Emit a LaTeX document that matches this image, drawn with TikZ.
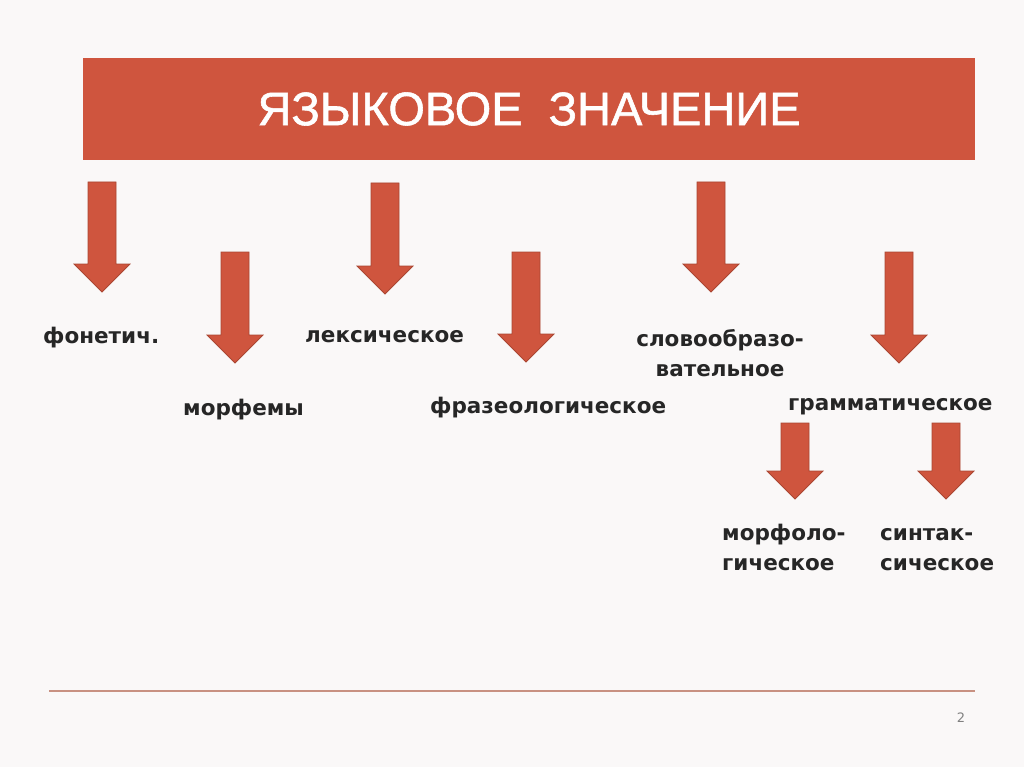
\documentclass[tikz,border=0pt]{standalone}
\usepackage{fontspec}
\setmainfont{DejaVu Sans}
\newfontfamily\titlefont[FakeBold=1.2]{Liberation Sans}
\definecolor{arrowred}{RGB}{207,85,62}
\definecolor{arrowedge}{RGB}{170,70,50}
\definecolor{bgcol}{RGB}{250,248,248}
\definecolor{textdark}{RGB}{38,38,38}
\definecolor{rulecol}{RGB}{200,145,130}
\tikzset{
  pics/darr/.style={code={
    \filldraw[fill=arrowred,draw=arrowedge,line width=0.8pt]
      (-14,0) -- (14,0) -- (14,#1-28) -- (28,#1-28) -- (0,#1)
      -- (-28,#1-28) -- (-14,#1-28) -- cycle;}},
  lbl/.style={font=\bfseries\fontsize{21.5}{29}\selectfont, text=textdark, inner sep=0pt, anchor=base west},
}
\begin{document}
\begin{tikzpicture}[x=1pt,y=-1pt]
\fill[bgcol] (0,0) rectangle (1024,767);
\useasboundingbox (0,0) rectangle (1024,767);
% banner
\node[fill=arrowred, minimum width=892pt, minimum height=102pt, inner sep=0pt,
  text=white, font=\titlefont\fontsize{47}{50}\selectfont] (title) at (529,109)
  {ЯЗЫКОВОЕ\ \ ЗНАЧЕНИЕ};
% arrows
\pic at (102,182) {darr=110};
\pic at (235,252) {darr=111};
\pic at (385,183) {darr=111};
\pic at (526,252) {darr=110};
\pic at (711,182) {darr=110};
\pic at (899,252) {darr=111};
\pic at (795,423) {darr=76};
\pic at (946,423) {darr=76};
% labels
\node[lbl] (phon) at (43,343) {фонетич.};
\node[lbl] (morphemes) at (183,415) {морфемы};
\node[lbl] (lex) at (305,342) {лексическое};
\node[lbl] (phraseo) at (430,413) {фразеологическое};
\node[lbl, anchor=base] (wordformA) at (720,346) {словообразо-};
\node[lbl, anchor=base] (wordformB) at (720,376) {вательное};
\node[lbl] (gram) at (788,410) {грамматическое};
\node[lbl] (morphoA) at (722,540) {морфоло-};
\node[lbl] (morphoB) at (722,570) {гическое};
\node[lbl] (syntA) at (880,540) {синтак-};
\node[lbl] (syntB) at (880,570) {сическое};
% bottom rule and page number
\draw[rulecol, line width=1.5pt] (49,691) -- (975,691);
\node[font=\fontsize{13}{14}\selectfont, text=gray, inner sep=0pt] (pagenum) at (961,718) {2};
\end{tikzpicture}
\end{document}
